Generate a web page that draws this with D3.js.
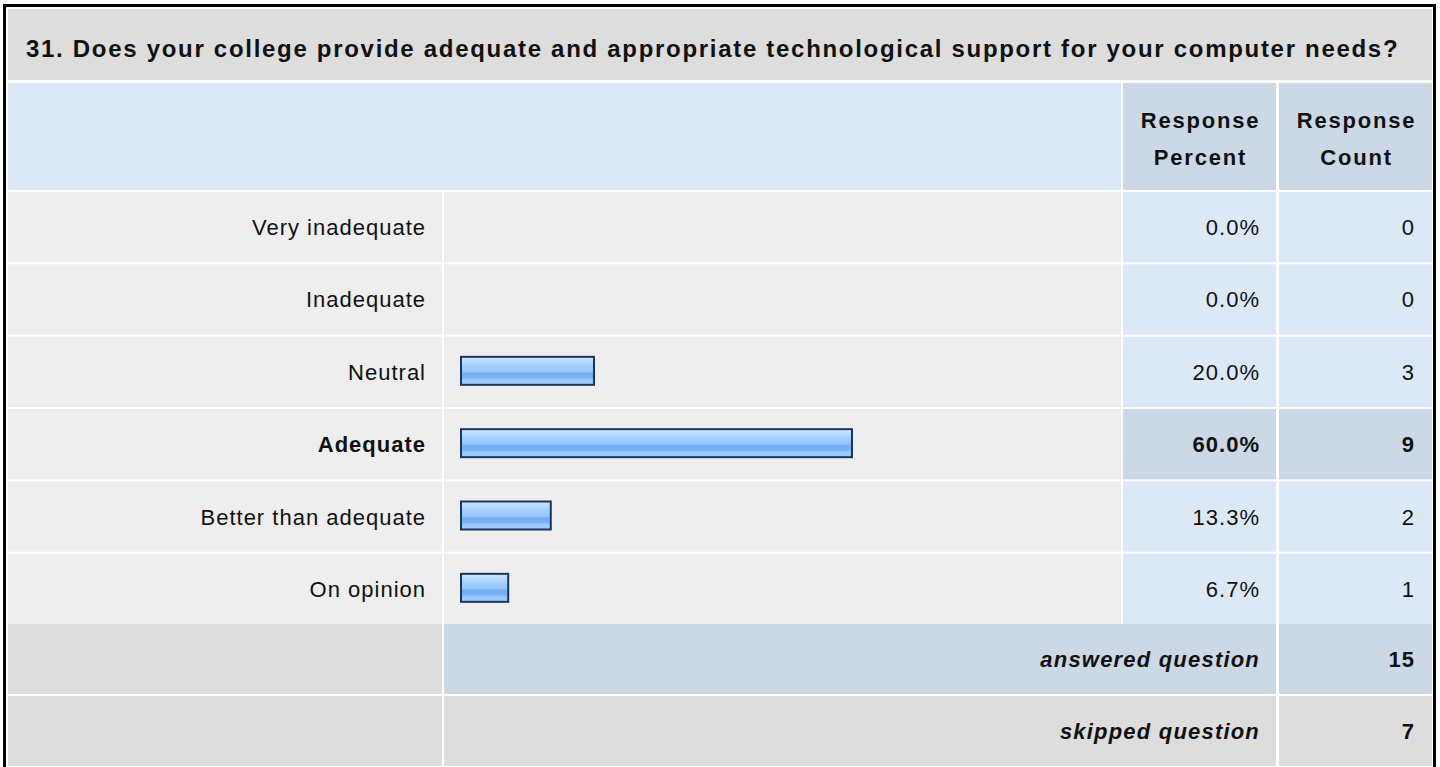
<!DOCTYPE html>
<html>
<head>
<meta charset="utf-8">
<script src="https://cdn.jsdelivr.net/npm/d3@7/dist/d3.min.js"></script>
<style>
  html, body { margin: 0; padding: 0; background: #ffffff; }
  svg { display: block; }
  text { font-family: "Liberation Sans", Arial, sans-serif; fill: #111; }
</style>
</head>
<body>
<svg id="chart" width="1440" height="767"></svg>
<script>
// ---- data ----
const title = "31. Does your college provide adequate and appropriate technological support for your computer needs?";
const categories = ["Very inadequate", "Inadequate", "Neutral", "Adequate", "Better than adequate", "On opinion"];
const percents = [0.0, 0.0, 20.0, 60.0, 13.3, 6.7];
const counts = [0, 0, 3, 9, 2, 1];
const headerLabels = [["Response", "Percent"], ["Response", "Count"]];
const answeredLabel = "answered question";
const answeredCount = 15;
const skippedLabel = "skipped question";
const skippedCount = 7;

// ---- layout ----
const svg = d3.select("#chart");
const FS = 22;
const LS = "1px";
const colLabel = [8, 442], colBar = [444, 1121], colPct = [1123, 1276], colCnt = [1279, 1432];
const rowTop0 = 192, rowStep = 72, rowH = 70;
const maxIdx = percents.indexOf(d3.max(percents));

const x = d3.scaleLinear().domain([0, 100]).range([4, 649]);
const y = d3.scaleBand().domain(categories).range([rowTop0, rowTop0 + rowStep * categories.length]).paddingInner(2 / rowStep).paddingOuter(0);

// gradient
const defs = svg.append("defs");
const g = defs.append("linearGradient").attr("id", "barGrad").attr("x1", 0).attr("x2", 0).attr("y1", 0).attr("y2", 1);
[[0, "#d3e8ff"], [0.18, "#b6d9ff"], [0.35, "#9fcdff"], [0.52, "#94c6fd"], [0.6, "#74acee"], [0.75, "#7bb3f2"], [0.82, "#98c9ff"], [1, "#9ccbff"]]
  .forEach(([o, c]) => g.append("stop").attr("offset", o).attr("stop-color", c));

// outer border
svg.append("rect").attr("x", 4.5).attr("y", 5.5).attr("width", 1430).attr("height", 800)
  .attr("fill", "none").attr("stroke", "#000").attr("stroke-width", 3);

// title
svg.append("rect").attr("x", 8).attr("y", 9).attr("width", 1424).attr("height", 71).attr("fill", "#dddddd");
svg.append("text").attr("x", 26).attr("y", 57).attr("font-size", 24).attr("font-weight", "bold")
  .style("letter-spacing", "1.7px").text(title);

// header row
const hTop = 83, hH = 107;
svg.append("rect").attr("x", colLabel[0]).attr("y", hTop).attr("width", colBar[1] - colLabel[0]).attr("height", hH).attr("fill", "#dce8f5");
[colPct, colCnt].forEach((c, i) => {
  svg.append("rect").attr("x", c[0]).attr("y", hTop).attr("width", c[1] - c[0]).attr("height", hH).attr("fill", "#ccd8e6");
  headerLabels[i].forEach((t, j) => {
    svg.append("text").attr("x", (c[0] + c[1]) / 2 + 1).attr("y", 128 + j * 37).attr("text-anchor", "middle")
      .attr("font-size", FS).attr("font-weight", "bold").style("letter-spacing", "1.8px").text(t);
  });
});

// data rows
const rows = svg.append("g").selectAll("g").data(categories).join("g");
rows.append("rect").attr("x", colLabel[0]).attr("y", d => y(d)).attr("width", colLabel[1] - colLabel[0]).attr("height", y.bandwidth()).attr("fill", "#eeeeee");
rows.append("rect").attr("x", colBar[0]).attr("y", d => y(d)).attr("width", colBar[1] - colBar[0]).attr("height", y.bandwidth()).attr("fill", "#eeeeee");
rows.append("rect").attr("x", colPct[0]).attr("y", d => y(d)).attr("width", colPct[1] - colPct[0]).attr("height", y.bandwidth())
  .attr("fill", (d, i) => i === maxIdx ? "#ccd8e6" : "#dce8f5");
rows.append("rect").attr("x", colCnt[0]).attr("y", d => y(d)).attr("width", colCnt[1] - colCnt[0]).attr("height", y.bandwidth())
  .attr("fill", (d, i) => i === maxIdx ? "#ccd8e6" : "#dce8f5");

rows.append("text").attr("x", 426).attr("y", d => y(d) + y.bandwidth() / 2 + 8).attr("text-anchor", "end")
  .attr("font-size", FS).attr("font-weight", (d, i) => i === maxIdx ? "bold" : "normal").style("letter-spacing", LS).text(d => d);
rows.append("text").attr("x", 1260).attr("y", d => y(d) + y.bandwidth() / 2 + 8).attr("text-anchor", "end")
  .attr("font-size", FS).attr("font-weight", (d, i) => i === maxIdx ? "bold" : "normal").style("letter-spacing", LS)
  .text((d, i) => percents[i].toFixed(1) + "%");
rows.append("text").attr("x", 1415).attr("y", d => y(d) + y.bandwidth() / 2 + 8).attr("text-anchor", "end")
  .attr("font-size", FS).attr("font-weight", (d, i) => i === maxIdx ? "bold" : "normal").style("letter-spacing", LS)
  .text((d, i) => counts[i]);

// bars
const barH = 28;
rows.filter((d, i) => percents[i] > 0).append("rect")
  .attr("x", 461).attr("y", d => y(d) + (y.bandwidth() - barH) / 2 - 1)
  .attr("width", d => x(percents[categories.indexOf(d)])).attr("height", barH)
  .attr("fill", "url(#barGrad)").attr("stroke", "#1d355c").attr("stroke-width", 2);

// answered / skipped rows
const aTop = rowTop0 + rowStep * categories.length;
const summary = [
  { label: answeredLabel, count: answeredCount, fill: "#ccd8e6" },
  { label: skippedLabel, count: skippedCount, fill: "#dddddd" }
];
summary.forEach((s, i) => {
  const top = aTop + i * rowStep;
  svg.append("rect").attr("x", colLabel[0]).attr("y", top).attr("width", colLabel[1] - colLabel[0]).attr("height", rowH).attr("fill", "#dddddd");
  svg.append("rect").attr("x", colBar[0]).attr("y", top).attr("width", colPct[1] - colBar[0]).attr("height", rowH).attr("fill", s.fill);
  svg.append("rect").attr("x", colCnt[0]).attr("y", top).attr("width", colCnt[1] - colCnt[0]).attr("height", rowH).attr("fill", s.fill);
  svg.append("text").attr("x", 1260).attr("y", top + rowH / 2 + 8).attr("text-anchor", "end")
    .attr("font-size", FS).attr("font-weight", "bold").attr("font-style", "italic").style("letter-spacing", "1.2px").text(s.label);
  svg.append("text").attr("x", 1415).attr("y", top + rowH / 2 + 8).attr("text-anchor", "end")
    .attr("font-size", FS).attr("font-weight", "bold").style("letter-spacing", LS).text(s.count);
});
</script>
</body>
</html>
